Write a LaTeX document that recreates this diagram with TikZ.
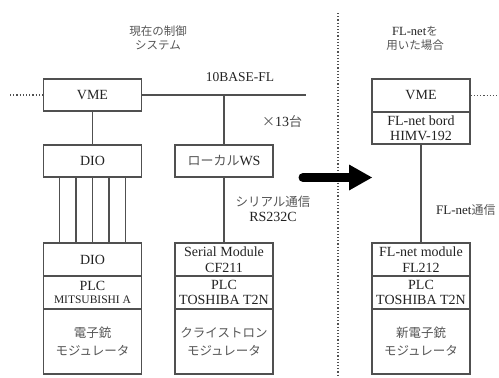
\documentclass[tikz,border=0pt]{standalone}
\usepackage{fontspec}
\setmainfont{Liberation Serif}
\newfontfamily\jp{Noto Sans CJK JP}
\definecolor{linec}{HTML}{505050}
\definecolor{txtc}{HTML}{222222}
\definecolor{jpc}{HTML}{555555}
\begin{document}
\begin{tikzpicture}[x=1pt,y=-1pt,
  box/.style={draw=linec,line width=1.1pt,rectangle,inner sep=0pt,minimum width=98pt,
    minimum height=32pt,align=center,text=txtc,font=\fontsize{14}{15.5}\selectfont},
  tall/.style={box,minimum height=65pt},
  jptxt/.style={text=jpc,font=\jp\fontsize{12.5}{18}\selectfont},
  wire/.style={draw=linec,line width=1.1pt},
  dots/.style={draw=linec,line width=1.2pt,dotted},
  lbl/.style={inner sep=0pt,align=center,text=txtc,font=\fontsize{14}{15.5}\selectfont}]
\useasboundingbox (0,0) rectangle (499,378);
% titles
\node[lbl,jptxt,font=\jp\fontsize{11.5}{14}\selectfont] (t1) at (158,38) {現在の制御\\システム};
\node[lbl,font=\fontsize{12.5}{14}\selectfont] (t2) at (415,38) {FL-net{\jp\color{jpc}\fontsize{11.5}{14}\selectfont を}\\{\jp\color{jpc}\fontsize{11.5}{14}\selectfont 用いた場合}};
% left column
\node[box] (vmeL) at (92.5,95) {VME};
\node[box] (dioL) at (92.5,161) {DIO};
\node[box,minimum height=33pt] (dioLb) at (92.5,259.5) {DIO};
\node[box,minimum height=33pt] (plcL) at (92.5,292.5) {PLC\\[-2pt]{\fontsize{11.5}{13}\selectfont MITSUBISHI A}};
\node[tall,jptxt] (modL) at (92.5,341.5) {電子銃\\モジュレータ};
% middle column
\node[box] (ws) at (224,161) {{\jp\color{jpc}\fontsize{13}{15}\selectfont ローカル}WS};
\node[box,minimum height=33pt] (ser) at (224,259.5) {Serial Module\\CF211};
\node[box,minimum height=33pt] (plcM) at (224,292.5) {PLC\\TOSHIBA T2N};
\node[tall,jptxt] (modM) at (224,341.5) {クライストロン\\モジュレータ};
% right column
\node[box,minimum height=33pt] (vmeR) at (421,95.5) {VME};
\node[box] (fb) at (421,128) {FL-net bord\\HIMV-192};
\node[box,minimum height=33pt] (flm) at (421,259.5) {FL-net module\\FL212};
\node[box,minimum height=33pt] (plcR) at (421,292.5) {PLC\\TOSHIBA T2N};
\node[tall,jptxt] (modR) at (421,341.5) {新電子銃\\モジュレータ};
% labels
\node[lbl,font=\fontsize{13.5}{15}\selectfont] (base) at (240,77) {10BASE-FL};
\node[lbl] (n13) at (282,122) {{\jp\color{jpc}\fontsize{13}{15}\selectfont ×}13{\jp\color{jpc}\fontsize{13}{15}\selectfont 台}};
\node[lbl] (ser232) at (273,209) {{\jp\color{jpc}\fontsize{12.5}{15}\selectfont シリアル通信}\\RS232C};
\node[lbl,anchor=west,font=\fontsize{13}{15}\selectfont] (flnet) at (436,210) {FL-net{\jp\color{jpc}\fontsize{12}{15}\selectfont 通信}};
% connectors
\coordinate (busEnd) at (306,95);
\coordinate (dotL) at (10,95);
\coordinate (dotR) at (499,95.5);
\draw[dots] (dotL) -- (vmeL.west);
\draw[dots] (vmeR.east) -- (dotR);
\draw[wire] (vmeL.east) -- (busEnd);
\draw[wire] (ws.north |- vmeL.east) -- (ws.north);
\draw[wire] (vmeL.south) -- (dioL.north);
\foreach \dx in {-33,-16.5,0,16.5,33}
  \draw[wire] ([xshift=\dx pt]dioL.south) -- ([xshift=\dx pt]dioLb.north);
\draw[wire] (ws.south) -- (ser.north);
\draw[wire] (fb.south) -- (flm.north);
% separator
\coordinate (sepT) at (338,13);
\coordinate (sepB) at (338,378);
\draw[dots,line width=1.4pt] (sepT) -- (sepB);
% big arrow
\coordinate (arS) at (303,177.5);
\coordinate (arH) at (349,177.5);
\coordinate (arT) at (372,177.5);
\draw[black,line width=9pt,line cap=round] (arS) -- (arH);
\fill[black] ([yshift=-13pt]arH) -- (arT) -- ([yshift=13pt]arH) -- cycle;
\end{tikzpicture}
\end{document}
